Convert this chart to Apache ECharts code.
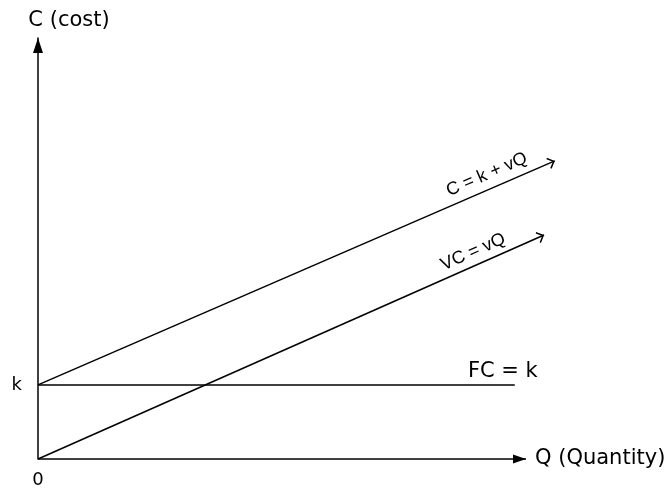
<!DOCTYPE html>
<html>
<head>
<meta charset="utf-8">
<script src="https://cdn.jsdelivr.net/npm/echarts@6/dist/echarts.min.js"></script>
<style>
html,body{margin:0;padding:0;background:#fff;}
#c{width:670px;height:488px;}
</style>
</head>
<body>
<div id="c"></div>
<script>
// ---- data ----
const lineNames = ['C = k + vQ', 'VC = vQ', 'FC = k'];
const totalQ = [0, 105.9];
const totalC = [17.6, 70.8];
const variableQ = [0, 103.7];
const variableC = [0, 53.2];
const fixedQ = [0, 97.7];
const fixedC = [17.6, 17.6];
const qAxisQ = [0, 100];
const qAxisC = [0, 0];
const axisNames = ['Q (Quantity)', 'C (cost)'];
const xTickValues = [0];
const xTickLabels = ['0'];
const yTickValues = [17.6];
const yTickLabels = ['k'];

// ---- style ----
const BLACK = '#000';
const LW = 1.5;
const labelFont = 'Liberation Sans, Arial, sans-serif';
const wideFont = 'DejaVu Sans, sans-serif';
const chevron = 'path://M6,0 L12,6 L10.8,7 L6,2.1 L1.2,7 L0,6 Z';

function pts(qs, cs) { return qs.map((q, i) => [q, cs[i]]); }

function lineSeries(name, qs, cs, opts) {
  const p = pts(qs, cs);
  return {
    type: 'line', name: name, data: p, clip: false, silent: true,
    showSymbol: false, symbol: 'none',
    lineStyle: { opacity: 0 },
    markLine: {
      silent: true, animation: false,
      symbol: ['none', opts.symbol || 'none'],
      symbolSize: opts.symbolSize || 1,
      symbolOffset: [[0, 0], opts.offset || [0, 0]],
      lineStyle: { color: BLACK, width: LW, type: 'solid', opacity: 1 },
      itemStyle: { color: BLACK },
      label: Object.assign({ show: true, color: BLACK, formatter: name }, opts.label),
      emphasis: { disabled: true },
      data: [[{ coord: p[0] }, { coord: p[p.length - 1] }]]
    }
  };
}

const chart = echarts.init(document.getElementById('c'), null, { renderer: 'canvas' });
chart.setOption({
  animation: false,
  backgroundColor: '#fff',
  grid: { left: 38, right: 95.2, top: 38, bottom: 29, containLabel: false, outerBoundsMode: 'none' },
  xAxis: {
    type: 'value', min: 0, max: 110,
    axisLine: { show: false },
    axisTick: { show: false },
    splitLine: { show: false },
    axisLabel: {
      customValues: xTickValues,
      formatter: v => { const i = xTickValues.indexOf(v); return i >= 0 ? xTickLabels[i] : ''; },
      margin: 12, color: BLACK, fontFamily: wideFont, fontSize: 18
    }
  },
  yAxis: {
    type: 'value', min: 0, max: 100,
    name: axisNames[1], nameLocation: 'end', nameGap: 7,
    nameTextStyle: { color: BLACK, fontFamily: wideFont, fontSize: 21, align: 'center', verticalAlign: 'bottom', padding: [0, 0, 0, 62] },
    axisLine: { show: true, onZero: false, lineStyle: { color: BLACK, width: LW }, symbol: ['none', 'triangle'], symbolSize: [10, 15], symbolOffset: [0, -7.5] },
    axisTick: { show: false },
    splitLine: { show: false },
    axisLabel: {
      customValues: yTickValues,
      formatter: v => { const i = yTickValues.indexOf(v); return i >= 0 ? yTickLabels[i] : ''; },
      margin: 16, color: BLACK, fontFamily: wideFont, fontSize: 18, padding: [0, 0, 4, 0]
    }
  },
  series: [
    lineSeries(lineNames[0], totalQ, totalC, {
      symbol: chevron, symbolSize: [12, 7], offset: [0, 3.5],
      label: { position: 'insideEndTop', distance: [24.8, 5.5], fontFamily: labelFont, fontSize: 18 }
    }),
    lineSeries(lineNames[1], variableQ, variableC, {
      symbol: chevron, symbolSize: [12, 7], offset: [0, 3.5],
      label: { position: 'insideEndTop', distance: [37.5, 4.2], fontFamily: labelFont, fontSize: 18 }
    }),
    lineSeries(lineNames[2], fixedQ, fixedC, {
      label: { position: 'insideEndTop', distance: [-23, 3.2], fontFamily: wideFont, fontSize: 21 }
    }),
    lineSeries(axisNames[0], qAxisQ, qAxisC, {
      symbol: 'triangle', symbolSize: [9, 13], offset: [0, 6.5],
      label: { position: 'end', distance: 9, fontFamily: wideFont, fontSize: 21, padding: [3, 0, 0, 0] }
    })
  ]
});
</script>
</body>
</html>
